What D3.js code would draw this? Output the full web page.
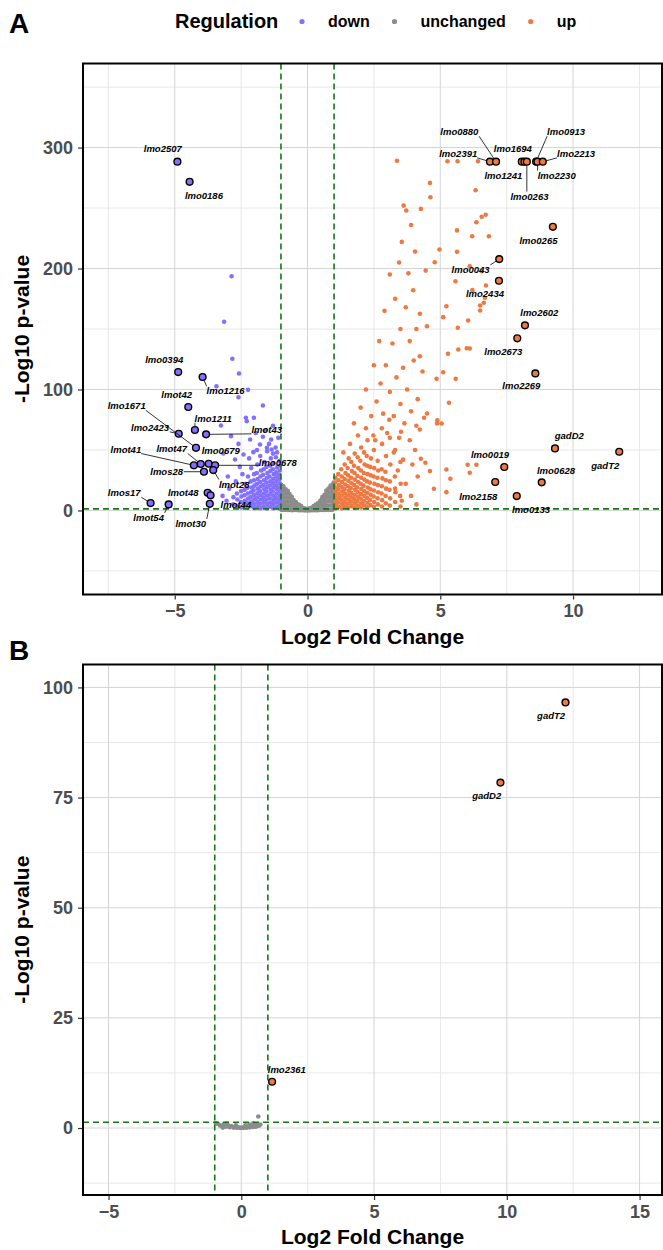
<!DOCTYPE html>
<html>
<head>
<meta charset="utf-8">
<script src="https://d3js.org/d3.v7.min.js"></script>
<style>
  body { margin: 0; background: #fff; }
  svg { font-family: "Liberation Sans", Arial, sans-serif; }
</style>
</head>
<body>
<div id="chart"></div>
<script>
// ---------------- data ----------------
var regulation = ["down", "unchanged", "up"];

// panel A: [log2 fold change, -log10 p]
var aUnchanged = [
  [-0.98,0.5],[-0.98,3],[-0.97,6],[-0.98,9],[-0.96,12],[-0.98,15],[-0.97,18],[-0.99,21],
  [-0.9,0.4],[-0.91,3.5],[-0.89,7],[-0.9,10.5],[-0.92,14],[-0.9,17.5],[-0.91,20],
  [-0.82,0.6],[-0.83,4],[-0.81,7.5],[-0.82,11],[-0.84,14.5],[-0.82,17.5],
  [-0.74,0.3],[-0.75,3.5],[-0.73,7],[-0.74,10.5],[-0.76,14],[-0.74,16],
  [-0.66,0.5],[-0.67,4],[-0.65,7.5],[-0.66,11],[-0.68,13.5],
  [-0.58,0.2],[-0.59,3.5],[-0.57,6.5],[-0.58,9.5],[-0.6,11.5],
  [-0.5,0.4],[-0.51,3],[-0.49,6],[-0.52,8.5],
  [-0.42,0.3],[-0.43,3],[-0.41,5.5],[-0.44,7],
  [-0.34,0.2],[-0.35,2.5],[-0.33,4.8],
  [-0.26,0.1],[-0.27,2.3],[-0.25,3.8],
  [-0.18,0.1],[-0.19,2.2],[-0.1,0.05],[-0.11,1.7],[-0.02,0.02],[-0.03,1.2],
  [0.06,0.05],[0.05,1.5],[0.14,0.1],[0.13,2],
  [0.22,0.1],[0.21,2.4],[0.23,3.6],
  [0.3,0.2],[0.29,2.6],[0.31,4.8],
  [0.38,0.2],[0.37,3],[0.39,5.8],
  [0.46,0.3],[0.45,3.2],[0.47,6.2],[0.48,8],
  [0.54,0.4],[0.53,3.5],[0.55,6.5],[0.54,9.3],[0.56,11],
  [0.62,0.4],[0.61,3.6],[0.63,7],[0.62,10.2],[0.64,13],
  [0.7,0.5],[0.69,4],[0.71,7.5],[0.7,11],[0.72,14.5],[0.71,16.5],
  [0.78,0.5],[0.77,4],[0.79,7.6],[0.78,11.2],[0.8,14.6],[0.79,18],
  [0.86,0.6],[0.85,4.1],[0.87,7.6],[0.86,11.1],[0.88,14.6],[0.86,18.1],[0.87,20.5],
  [0.94,0.6],[0.93,4],[0.95,7.5],[0.94,11],[0.96,14.5],[0.94,18],[0.95,21.5],
  [0.99,2],[0.99,5.5],[0.98,9],[0.99,12.5],[0.98,16],[0.99,19.5],[0.99,23]
];

var aDown = [
  [-1.05,1.6],[-1.05,5],[-1.06,8.5],[-1.04,12],[-1.05,15.5],[-1.06,19],[-1.04,22.5],[-1.05,26],[-1.07,29.5],[-1.04,33],[-1.06,37],[-1.05,41],
  [-1.17,3.2],[-1.16,6.8],[-1.18,10.3],[-1.17,13.8],[-1.16,17.4],[-1.18,20.8],[-1.17,24.3],[-1.16,27.8],[-1.18,31.5],[-1.15,35.5],[-1.19,44],
  [-1.29,1.8],[-1.3,5.2],[-1.28,8.7],[-1.29,12.2],[-1.31,15.7],[-1.28,19.2],[-1.3,22.7],[-1.29,26.2],[-1.27,30],[-1.31,34],[-1.28,39],[-1.3,47],
  [-1.41,3],[-1.4,6.6],[-1.42,10],[-1.41,13.6],[-1.39,17],[-1.42,20.6],[-1.4,24],[-1.43,28],[-1.4,32.5],[-1.41,37],[-1.38,43],
  [-1.53,1.7],[-1.52,5.3],[-1.54,8.8],[-1.53,12.3],[-1.55,15.8],[-1.52,19.3],[-1.54,23],[-1.53,27],[-1.51,31],[-1.55,36],[-1.52,49],
  [-1.65,3.4],[-1.64,6.9],[-1.66,10.4],[-1.65,14],[-1.63,17.5],[-1.66,21],[-1.64,25],[-1.67,29.5],[-1.65,34],[-1.63,40],
  [-1.77,1.9],[-1.78,5.5],[-1.76,9],[-1.77,12.5],[-1.79,16],[-1.76,19.8],[-1.78,23.5],[-1.77,28],[-1.75,33],[-1.78,45],
  [-1.89,3.5],[-1.88,7],[-1.9,10.6],[-1.89,14.2],[-1.87,18],[-1.9,22],[-1.88,26],[-1.91,31],[-1.89,38],
  [-2.01,2.1],[-2.02,5.6],[-2,9.2],[-2.01,12.8],[-2.03,16.6],[-2,20.5],[-2.02,25],[-2.01,30],
  [-2.13,3.6],[-2.12,7.3],[-2.14,11],[-2.13,15],[-2.11,19],[-2.14,24],[-2.12,35],
  [-2.25,2.3],[-2.26,6],[-2.24,9.8],[-2.25,14],[-2.27,18.5],[-2.24,28],
  [-2.37,4],[-2.36,8],[-2.38,12.5],[-2.37,17],[-2.35,22],
  [-2.5,2.5],[-2.51,7],[-2.49,11.5],[-2.5,16],
  [-2.65,3.5],[-2.64,9],[-2.66,14],[-2.8,5],[-2.79,11],
  [-2.86,193.6],[-3.14,156],[-2.83,125.4],[-2.58,113.2],[-3.43,102.7],[-2.24,99.7],[-2.6,93.6],[-1.68,86.8],
  [-2.32,76.6],[-2.02,76.6],[-2.29,73.8],[-3.26,70.2],[-2.88,61.4],[-2.16,58.7],[-1.68,60.9],[-1.37,58.7],
  [-1.79,54.5],[-1.35,50.4],[-3.17,47.1],[-2.41,46.3],[-2.73,42.1],[-2.04,48.2],[-1.53,51.8],
  [-1.2,52],[-1.45,55],[-1.9,50],[-2.2,43],[-1.1,60],[-2.55,36],[-3.0,28],[-2.95,18],[-3.2,12],[-1.6,66],
  [-1.3,70],[-2.6,55],[-1.95,64],[-2.45,30],[-3.05,8],[-2.7,24],[-1.15,48]
];

var aUp = [
  [1.05,1.6],[1.05,5],[1.06,8.5],[1.04,12],[1.05,15.5],[1.06,19],[1.04,23],[1.05,27],
  [1.17,3.3],[1.16,6.8],[1.18,10.3],[1.17,13.8],[1.16,17.4],[1.18,21],[1.17,25],[1.16,30],
  [1.29,1.8],[1.3,5.3],[1.28,8.8],[1.29,12.3],[1.31,15.9],[1.28,19.5],[1.3,23.5],[1.29,28],[1.27,34],
  [1.41,3.5],[1.4,7],[1.42,10.5],[1.41,14],[1.39,17.6],[1.42,21.5],[1.4,26],[1.43,31],[1.4,38],
  [1.53,2],[1.52,5.5],[1.54,9],[1.53,12.6],[1.55,16.3],[1.52,20],[1.54,24.5],[1.53,29],[1.51,35],[1.55,43],
  [1.65,3.6],[1.64,7.2],[1.66,10.8],[1.65,14.5],[1.63,18.3],[1.66,22.5],[1.64,27],[1.67,32.5],[1.65,40],
  [1.77,2.2],[1.78,5.8],[1.76,9.4],[1.77,13],[1.79,17],[1.76,21],[1.78,25.5],[1.77,31],[1.75,37],[1.78,47],
  [1.89,4],[1.88,7.7],[1.9,11.4],[1.89,15.2],[1.87,19.2],[1.9,23.5],[1.88,28.5],[1.91,35],[1.89,44],
  [2.01,2.4],[2.02,6],[2,9.8],[2.01,13.6],[2.03,17.7],[2,22],[2.02,27],[2.01,33],[1.99,41],[2.02,52],
  [2.13,4.2],[2.12,8],[2.14,12],[2.13,16],[2.11,20.5],[2.14,25.5],[2.12,31],[2.15,38],[2.13,48],
  [2.25,2.6],[2.26,6.4],[2.24,10.4],[2.25,14.6],[2.27,19],[2.24,24],[2.26,30],[2.25,37],[2.23,45],[2.26,58],
  [2.37,4.5],[2.36,8.6],[2.38,13],[2.37,17.5],[2.35,23],[2.38,29],[2.36,36],[2.39,43],
  [2.5,3],[2.51,7],[2.49,11.5],[2.5,16.5],[2.52,22],[2.49,28],[2.51,35],[2.5,50],[2.48,62],
  [2.65,5],[2.64,10],[2.66,15],[2.65,21],[2.63,27],[2.66,33],[2.64,41],
  [2.8,3.3],[2.81,8.5],[2.79,14],[2.8,20],[2.82,26.5],[2.79,34],[2.81,55],[2.8,68],
  [2.95,6],[2.94,12],[2.96,18],[2.95,25],[2.93,32],[2.96,45],
  [3.1,4],[3.11,10],[3.09,17],[3.1,24],[3.12,38],[3.1,60],[3.08,75],
  [3.3,7],[3.31,15],[3.29,28],[3.3,50],[3.5,3.3],[3.49,12],[3.51,22],[3.5,40],[3.52,65],
  [3.62,252],[3.72,248],[3.37,289],[3.55,222],[3.9,236],[4.05,214],[3.8,196],[3.45,205],[3.98,182],
  [3.3,175],[3.7,168],[4.1,150],[3.5,150],[3.85,140],[3.2,138],[4.0,124],[3.6,118],[3.35,110],
  [2.95,120],[3.75,100],[3.1,98],[2.75,105],[4.15,92],[3.5,88],[2.6,90],[3.9,82],[3.25,78],[2.85,80],
  [2.4,78],[3.65,72],[4.1,70],[2.2,68],[3.0,64],[3.45,60],[1.9,62],[3.85,58],[2.55,58],[4.05,50],
  [3.25,48],[1.6,55],[3.6,42],[3.95,38],[3.4,33],[4.15,28],[3.7,22],[3.3,18],[3.9,12],[3.55,8],[4.1,5],
  [2.7,140],[2.9,165],[3.1,195],[2.5,120],[2.2,100],[2.0,85],[1.75,72],[1.35,48],
  [5.27,288.7],[5.65,288.7],[6.42,288.7],[4.61,270.8],[6.33,264.7],[4.63,258.9],[4.27,249.3],[6.56,242.7],
  [6.71,244.4],[6.36,238.3],[5.63,231.5],[6.2,226.7],[6.83,226.7],[4.97,215.7],[5.63,213.8],[4.79,205.2],
  [4.45,198.3],[6.11,201.9],[6.56,197.8],[5.57,189.5],[6.72,186],[6.21,182.1],[5.23,168.8],[6.68,175.8],
  [6.64,171.7],[6.5,169.4],[6.5,165.3],[5.11,159.8],[4.23,162.6],[4.5,152.3],[6.05,157],[5.66,151],
  [5.29,129.5],[5.68,133.1],[6,134.1],[6.11,133.9],[4.23,127.5],[5.11,114.3],[4.33,114.9],[4.86,108.8],
  [5.58,108.8],[5.33,89],[4.5,80.2],[4.39,76.6],[4.89,74.6],[4.88,71.9],[5.05,71.9],[4.23,66.9],
  [4.27,42.7],[4.44,39.4],[4.61,32.5],[5.23,33.9],[5.38,26.2],[6.03,37.8],[6.36,37.8],[6.11,31.2],
  [4.76,17.9],[5.23,15.1]
];

// labelled genes, panel A
var aGenes = ["lmo2507","lmo0186","lmo0394","lmo1216","lmot42","lmo1671","lmo2423","lmo1211","lmot43","lmot47",
  "lmot41","lmo0679","lmo0678","lmos28","lmot28","lmot48","lmot44","lmot30","lmos17","lmot54",
  "lmo2391","lmo0880","lmo1241","lmo1694","lmo0263","lmo0913","lmo2230","lmo2213","lmo0265","lmo0043",
  "lmo2434","lmo2602","lmo2673","lmo2269","gadD2","gadT2","lmo0019","lmo0628","lmo2158","lmo0133"];
var aGeneLfc = [-4.90,-4.44,-4.87,-3.95,-4.49,-4.20,-4.85,-4.24,-3.82,-4.02,
  -4.28,-3.72,-3.48,-3.90,-3.55,-3.76,-3.65,-3.68,-5.91,-5.23,
  6.87,7.10,8.07,8.17,8.26,8.61,8.66,8.86,9.24,7.22,
  7.21,8.19,7.90,8.58,9.32,11.74,7.41,8.82,7.07,7.88];
var aGeneP = [288.3,271.7,114.4,110.3,85.5,51.8,63.4,66.5,62.9,38.4,
  37.3,38.6,37.3,32.0,33.4,14.6,12.5,5.5,6.1,5.0,
  288.3,288.3,288.3,288.3,288.3,288.3,288.3,288.3,234.5,207.8,
  189.9,153.0,142.3,113.3,51.3,48.5,35.9,23.2,23.5,11.9];

// panel B
var bUnchanged = [
  [-0.95,1.1],[-0.88,0.9],[-0.8,0.6],[-0.72,0.5],[-0.65,0.9],[-0.58,0.3],[-0.5,0.6],[-0.44,0.2],
  [-0.38,0.45],[-0.3,0.1],[-0.24,0.3],[-0.18,0.05],[-0.1,0.15],[-0.04,0.02],[0.02,0.1],[0.08,0.04],
  [0.14,0.2],[0.2,0.08],[0.26,0.35],[0.32,0.15],[0.38,0.5],[0.44,0.25],[0.5,0.7],[0.55,0.3],
  [0.6,0.9],[0.66,0.5],[0.72,0.8],[0.64,2.6],[-0.7,0.1],[-0.2,0.6],[0.15,0.6],[0.45,1.1],
  [-0.55,1.0],[0.3,0.8]
];
var bGenes = ["lmo2361", "gadD2", "gadT2"];
var bGeneLfc = [1.16, 9.76, 12.21];
var bGeneP = [10.5, 78.4, 96.6];

var aXTicks = [-5, 0, 5, 10];
var aYTicks = [0, 100, 200, 300];
var bXTicks = [-5, 0, 5, 10, 15];
var bYTicks = [0, 25, 50, 75, 100];

// ---------------- layout / style ----------------
// label nudges in px: [dx, dy, leader line]
var aNudge = [[-14.6,-13.4,0],[14.3,13.3,0],[-14,-12.7,0],[23,13.7,1],[-11.6,-13,0],[-69.3,-42,1],[-28.7,-6.4,1],[18.3,-11.7,1],[60.7,-5,1],[-29,-15,1],
  [-68,-16.3,1],[12,-13,0],[62.7,-3.3,1],[-37.3,-0.7,1],[21,14,1],[-24.4,0,0],[25.3,9.4,0],[-19,19.6,1],[-26.4,-10.3,1],[-20,13,1],
  [-31.7,-8.4,1],[-36.7,-30,1],[-18.4,13.3,0],[-11.6,-13.4,0],[2.6,34.3,1],[30,-30,1],[19.2,13.3,1],[33.3,-8.4,1],[-14.4,13.3,0],[-28.6,10.3,1],
  [-14,12.6,0],[14.3,-13,0],[-14,13.4,0],[-14,12,0],[14.3,-12.6,0],[-14,13.6,0],[-14.3,-12.7,0],[14.3,-12,0],[-17,14,0],[14.3,13,0]];
var bNudge = [[14.7,-12.4,0],[-13.7,13.3,0],[-14.4,13.4,0]];

var colors = {down: "#8470FF", unchanged: "#8C8C8C", up: "#EE7942"};
var W = 663, H = 1250, left = 83, right = 662;

var svg = d3.select("#chart").append("svg")
    .attr("width", W)
    .attr("height", H);

// legend
var leg = svg.append("g");
leg.append("text").attr("x", 175).attr("y", 28)
    .style("font-size", "20px").style("font-weight", "bold").text("Regulation");
var legX = [302, 394.5, 530.7];
regulation.forEach(function(r, i) {
    leg.append("circle").attr("cx", legX[i]).attr("cy", 21.5).attr("r", 2.6).attr("fill", colors[r]);
    leg.append("text").attr("x", legX[i] + 26).attr("y", 27)
        .style("font-size", "16px").style("font-weight", "bold").text(r);
});

function pairs(arr, reg) {
    return arr.map(function(d) { return {x: d[0], y: d[1], reg: reg}; });
}

function drawPanel(cfg) {
    var x = d3.scaleLinear().domain(cfg.xDomain).range([left, right]);
    var y = d3.scaleLinear().domain(cfg.yDomain).range([cfg.bottom, cfg.top]);
    var g = svg.append("g");
    var clipId = "clip" + cfg.letter;
    g.append("clipPath").attr("id", clipId).append("rect")
        .attr("x", left).attr("y", cfg.top).attr("width", right - left).attr("height", cfg.bottom - cfg.top);

    // grid: majors on the tick step, minors halfway
    var xs = cfg.xTicks, ys = cfg.yTicks;
    var dx = xs[1] - xs[0], dy = ys[1] - ys[0];
    var xMinor = d3.range(xs[0] - dx * 1.5, cfg.xDomain[1], dx).filter(function(v) { return v > cfg.xDomain[0]; });
    var yMinor = d3.range(ys[0] - dy * 1.5, cfg.yDomain[1], dy).filter(function(v) { return v > cfg.yDomain[0]; });
    var xMajor = d3.range(xs[0] - dx * 2, cfg.xDomain[1], dx).filter(function(v) { return v > cfg.xDomain[0]; });
    var yMajor = d3.range(ys[0] - dy * 2, cfg.yDomain[1], dy).filter(function(v) { return v > cfg.yDomain[0]; });

    var grid = g.append("g").attr("clip-path", "url(#" + clipId + ")");
    grid.selectAll(".vmin").data(xMinor).enter().append("line")
        .attr("x1", x).attr("x2", x).attr("y1", cfg.top).attr("y2", cfg.bottom)
        .attr("stroke", "#e2e2e2").attr("stroke-width", 0.8);
    grid.selectAll(".hmin").data(yMinor).enter().append("line")
        .attr("y1", y).attr("y2", y).attr("x1", left).attr("x2", right)
        .attr("stroke", "#e2e2e2").attr("stroke-width", 0.8);
    grid.selectAll(".vmaj").data(xMajor).enter().append("line")
        .attr("x1", x).attr("x2", x).attr("y1", cfg.top).attr("y2", cfg.bottom)
        .attr("stroke", "#d4d4d4").attr("stroke-width", 1);
    grid.selectAll(".hmaj").data(yMajor).enter().append("line")
        .attr("y1", y).attr("y2", y).attr("x1", left).attr("x2", right)
        .attr("stroke", "#d4d4d4").attr("stroke-width", 1);

    // points
    var pts = pairs(cfg.unchanged, "unchanged").concat(pairs(cfg.down || [], "down"), pairs(cfg.up || [], "up"));
    var pg = g.append("g").attr("clip-path", "url(#" + clipId + ")");
    pg.selectAll("circle").data(pts).enter().append("circle")
        .attr("cx", function(d) { return x(d.x); })
        .attr("cy", function(d) { return y(d.y); })
        .attr("r", 2.3)
        .attr("fill", function(d) { return colors[d.reg]; });

    // thresholds
    var thr = g.append("g").attr("clip-path", "url(#" + clipId + ")")
        .attr("stroke", "#18761a").attr("stroke-width", 1.6).attr("stroke-dasharray", "6,4");
    [-1, 1].forEach(function(v) {
        thr.append("line").attr("x1", x(v)).attr("x2", x(v)).attr("y1", cfg.top).attr("y2", cfg.bottom);
    });
    thr.append("line").attr("x1", left).attr("x2", right)
        .attr("y1", y(-Math.log10(0.05))).attr("y2", y(-Math.log10(0.05)));

    // labelled genes
    var lg = g.append("g");
    cfg.genes.forEach(function(name, i) {
        var cx = x(cfg.lfc[i]), cy = y(cfg.p[i]);
        var nd = cfg.nudge[i];
        var t = lg.append("text")
            .attr("x", cx + nd[0]).attr("y", cy + nd[1])
            .attr("text-anchor", "middle").attr("dominant-baseline", "central")
            .style("font-size", "9.5px").style("font-weight", "bold").style("font-style", "italic")
            .text(name);
        if (nd[2]) {
            var b = t.node().getBBox();
            var px = Math.max(b.x, Math.min(cx, b.x + b.width));
            var py = Math.max(b.y + 1, Math.min(cy, b.y + b.height - 1));
            var len = Math.hypot(px - cx, py - cy);
            if (len > 4) {
                lg.insert("line", "text")
                    .attr("x1", cx + (px - cx) / len * 3.4).attr("y1", cy + (py - cy) / len * 3.4)
                    .attr("x2", px).attr("y2", py)
                    .attr("stroke", "#000").attr("stroke-width", 0.8);
            }
        }
    });
    lg.selectAll("circle").data(cfg.genes).enter().insert("circle", "line")
        .attr("cx", function(d, i) { return x(cfg.lfc[i]); })
        .attr("cy", function(d, i) { return y(cfg.p[i]); })
        .attr("r", 3.4)
        .attr("fill", function(d, i) { return cfg.lfc[i] > 0 ? colors.up : colors.down; })
        .attr("stroke", "#000").attr("stroke-width", 1.4);

    // border
    g.append("rect").attr("x", left).attr("y", cfg.top)
        .attr("width", right - left).attr("height", cfg.bottom - cfg.top)
        .attr("fill", "none").attr("stroke", "#000").attr("stroke-width", 2);

    // axes
    var xa = g.append("g").attr("transform", "translate(0," + (cfg.bottom + 1) + ")")
        .call(d3.axisBottom(x).tickValues(cfg.xTicks).tickSize(4).tickPadding(5));
    var ya = g.append("g").attr("transform", "translate(" + (left - 1) + ",0)")
        .call(d3.axisLeft(y).tickValues(cfg.yTicks).tickSize(4).tickPadding(5));
    [xa, ya].forEach(function(a) {
        a.select(".domain").remove();
        a.selectAll(".tick line").attr("stroke", "#333").attr("stroke-width", 1.2);
        a.selectAll(".tick text").attr("fill", "#4d4d4d")
            .style("font-size", "18px").style("font-weight", "bold")
            .style("font-family", '"Liberation Sans", Arial, sans-serif');
    });

    // titles
    svg.append("text").attr("x", (left + right) / 2).attr("y", cfg.bottom + 49)
        .attr("text-anchor", "middle").style("font-size", "21px").style("font-weight", "bold")
        .text("Log2 Fold Change");
    svg.append("text")
        .attr("transform", "translate(29," + (cfg.top + cfg.bottom) / 2 + ") rotate(-90)")
        .attr("text-anchor", "middle").style("font-size", "21px").style("font-weight", "bold")
        .text("-Log10 p-value");
    svg.append("text").attr("x", 9).attr("y", cfg.letterY)
        .style("font-size", "28px").style("font-weight", "bold").text(cfg.letter);
}

drawPanel({
    letter: "A", letterY: 33,
    top: 63.5, bottom: 594.5,
    xDomain: [-8.455, 13.35], yDomain: [-69.5, 369.5],
    xTicks: aXTicks, yTicks: aYTicks,
    unchanged: aUnchanged, down: aDown, up: aUp,
    genes: aGenes, lfc: aGeneLfc, p: aGeneP, nudge: aNudge
});

drawPanel({
    letter: "B", letterY: 660,
    top: 664.5, bottom: 1195,
    xDomain: [-5.962, 15.845], yDomain: [-15.2, 105.2],
    xTicks: bXTicks, yTicks: bYTicks,
    unchanged: bUnchanged, down: [], up: [],
    genes: bGenes, lfc: bGeneLfc, p: bGeneP, nudge: bNudge
});
</script>
</body>
</html>
